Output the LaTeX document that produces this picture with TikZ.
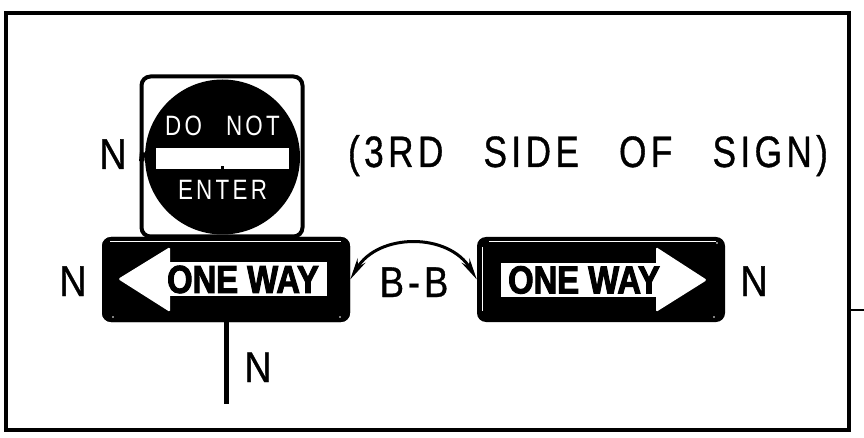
\documentclass[tikz,border=0pt]{standalone}
\usepackage{fontspec}
\setmainfont{Liberation Sans}
\newfontfamily\signfont[FakeBold=2.5,FakeStretch=0.84]{Liberation Sans Bold}
\newfontfamily\labfont[FakeBold=0.8,FakeStretch=0.88]{Liberation Sans}
\newfontfamily\bbfont[FakeBold=0.8,FakeStretch=0.85,LetterSpace=9]{Liberation Sans}
\newfontfamily\spacedfont[FakeBold=0.8,FakeStretch=0.8,LetterSpace=10]{Liberation Sans}
\newfontfamily\dnefont[FakeStretch=0.8,LetterSpace=11.6]{Liberation Sans}
\usetikzlibrary{arrows.meta}
\tikzset{
  x=1pt,y=-1pt,
  sheet/.style={line width=3.5pt,draw=black},
  lab/.style={font=\labfont\fontsize{43}{43}\selectfont,inner sep=0pt,text=black,anchor=base},
  wlab/.style={font=\dnefont\fontsize{28}{28}\selectfont,inner sep=0pt,text=white},
  wsign/.style={rectangle,rounded corners=9pt,fill=black,minimum width=248pt,minimum height=85pt,inner sep=0pt},
  panel/.style={fill=white},
  head/.style={fill=white,rounded corners=1.5pt},
  hair/.style={draw=white,line width=1pt},
  oneway/.style={font=\signfont\fontsize{39}{39}\selectfont,inner sep=0pt,text=black},
  link/.style={line width=3pt,{Stealth[length=22pt,width=9pt]}-{Stealth[length=22pt,width=9pt]}},
}
\begin{document}
\begin{tikzpicture}
\useasboundingbox (0,0) rectangle (864,438);
\fill[white] (0,0) rectangle (864,438);
\draw[sheet] (6,13) rectangle (849,430);
\coordinate (tickA) at (849,310);
\coordinate (tickB) at (864,310);
\draw[line width=2pt] (tickA) -- (tickB);
% post
\node[wsign] (L) at (226,279.5) {};
\node[wsign] (R) at (601,279.5) {};
\coordinate (postEnd) at (226,404);
\draw[line width=5pt] (L.south) -- (postEnd);
% do not enter
\node[rectangle,draw=black,line width=4pt,rounded corners=9pt,fill=white,minimum width=161pt,minimum height=160pt,inner sep=0pt] (D) at (222,156.5) {};
\node[circle,fill=black,minimum size=155pt,inner sep=0pt] (C) at (222.5,157) {};
\fill[panel] (156,148) rectangle (289,169);
\fill[black] (220.5,166) rectangle (223.5,169);
\draw[line width=9pt] (D.west) -- (C.west);
\node[wlab] (dn) at (222.5,126) {DO\hspace{24pt}NOT};
\node[wlab] (en) at (222.5,190) {ENTER};
% left sign
\node[wsign] (L2) at (226,279.5) {};
\draw[hair] (110,242) -- (341,242);
\fill[panel] (170,262) rectangle (327,296);
\fill[head] (118,279) -- (170,247) -- (170,312) -- cycle;
\node[oneway] (lw) at (243,279.5) {ONE WAY};
\foreach \p in {(113,317),(340,317)} \fill[white] \p circle (.8);
% right sign
\draw[hair] (489,242) -- (716,242);
\draw[hair] (482,247) -- (482,311);
\fill[panel] (501,263) rectangle (658,297);
\fill[head] (707,280) -- (656,247) -- (656,312) -- cycle;
\node[oneway] (rw) at (584,280) {ONE WAY};
\foreach \p in {(717,243),(714,317)} \fill[white] \p circle (.8);
% link
\draw[link] (L.east) .. controls +(28,-47) and +(-28,-47) .. (R.west);
% labels
\node[lab] (n1) at (113,169) {N};
\node[lab] (n2) at (73,296) {N};
\node[lab] (n3) at (754,296) {N};
\node[lab] (n4) at (258,382) {N};
\node[lab,font=\bbfont\fontsize{43}{43}\selectfont] (bb) at (414,297) {B-B};
\node[lab,font=\spacedfont\fontsize{44}{44}\selectfont] (t) at (588,167) {(3RD\hspace{26pt} SIDE\hspace{26pt} OF\hspace{26pt} SIGN)};
\end{tikzpicture}
\end{document}
